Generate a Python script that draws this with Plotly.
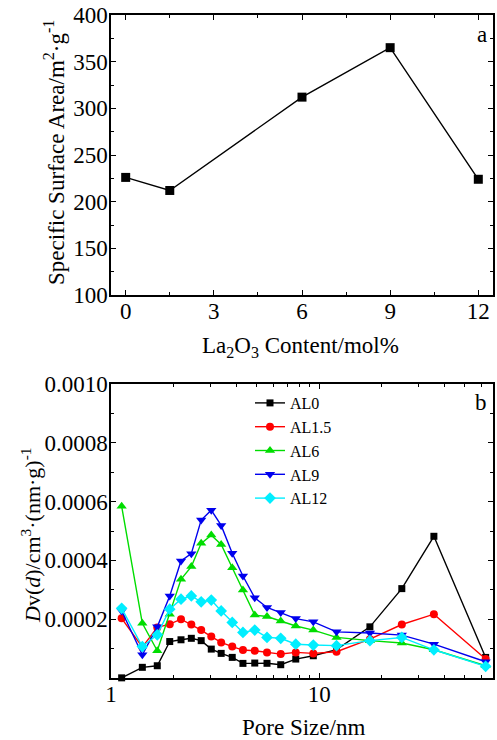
import plotly.graph_objects as go

# Panel a data
la_content = [0, 1.5, 6, 9, 12]
surface_area = [226, 212, 312, 365, 224]

# Panel b data
pore_size = [1.125, 1.414, 1.668, 1.914, 2.168, 2.43, 2.71, 3.03, 3.38, 3.82, 4.30,
             4.90, 5.61, 6.53, 7.71, 9.36, 12.1, 17.5, 24.9, 35.5, 62.9]
al0 = [0.0000005, 0.0000363, 0.0000417, 0.000124, 0.00013, 0.000135, 0.000127, 0.0000983,
       0.0000837, 0.0000701, 0.0000497, 0.0000508, 0.00005, 0.0000452, 0.0000644, 0.0000757,
       0.0000967, 0.000174, 0.000304, 0.000482, 0.00007]
al15 = [0.000203, 0.000105, 0.000172, 0.000183, 0.0002, 0.000182, 0.000163, 0.000141,
        0.000121, 0.000107, 0.000095, 0.0000926, 0.000087, 0.0000814, 0.000087, 0.0000837,
        0.0000893, 0.000132, 0.000182, 0.000217, 0.0000644]
al6 = [0.000584, 0.000186, 0.0000926, 0.000217, 0.000336, 0.000379, 0.000458, 0.000486,
       0.000454, 0.000375, 0.000299, 0.000214, 0.000209, 0.000194, 0.000177, 0.000163,
       0.000138, 0.000127, 0.000119, 0.000096, 0.0000417]
al9 = [0.000228, 0.000079, 0.000174, 0.000279, 0.000398, 0.000423, 0.000537, 0.000571,
       0.000519, 0.000424, 0.000347, 0.000273, 0.00024, 0.000223, 0.000202, 0.000191,
       0.000157, 0.000153, 0.000146, 0.000115, 0.0000553]
al12 = [0.000237, 0.000107, 0.000147, 0.000234, 0.000268, 0.000279, 0.000259, 0.000265,
        0.000228, 0.000189, 0.000155, 0.000163, 0.000138, 0.000135, 0.000115, 0.000112,
        0.00011, 0.000127, 0.000138, 0.000096, 0.0000397]

series_names = ["AL0", "AL1.5", "AL6", "AL9", "AL12"]
series_vals = [al0, al15, al6, al9, al12]
colors = ["#000000", "#ff0000", "#00dd00", "#0000ee", "#00eeff"]
symbols = ["square", "circle", "triangle-up", "triangle-down", "diamond"]
sizes = [7, 8, 9, 9, 9]

y_b_ticks = [0.0002, 0.0004, 0.0006, 0.0008, 0.0010]
y_b_ticktext = ["0.0002", "0.0004", "0.0006", "0.0008", "0.0010"]

FONT = "Liberation Serif"
W, H = 497, 740

fig = go.Figure()

fig.add_trace(go.Scatter(
    x=la_content, y=surface_area, mode="lines+markers",
    line=dict(color="black", width=1.4),
    marker=dict(symbol="square", size=9, color="black"),
    xaxis="x", yaxis="y", showlegend=False, cliponaxis=False))

for name, vals, c, s, sz in zip(series_names, series_vals, colors, symbols, sizes):
    fig.add_trace(go.Scatter(
        x=pore_size, y=vals, mode="lines+markers", name=name,
        line=dict(color=c, width=1.4),
        marker=dict(symbol=s, size=sz, color=c),
        xaxis="x2", yaxis="y2", cliponaxis=False))

def px_x(p):
    return p / W

def px_y(p):
    return 1 - p / H

axis_common = dict(
    showline=True, linecolor="black", linewidth=1.5, mirror="ticks",
    ticks="inside", ticklen=5, tickwidth=1, tickcolor="black",
    showgrid=False, zeroline=False, automargin=False,
    tickfont=dict(family=FONT, size=23, color="black"),
)

fig.update_layout(
    width=W, height=H,
    margin=dict(l=0, r=0, t=0, b=0, pad=0, autoexpand=False),
    paper_bgcolor="white", plot_bgcolor="white",
    font=dict(family=FONT, color="black"),
    xaxis=dict(domain=[px_x(111), px_x(493)], anchor="y", range=[-0.5, 12.5],
               tickmode="linear", tick0=0, dtick=3, ticklabelstandoff=-5,
               minor=dict(ticks="inside", ticklen=3, dtick=1.5, tick0=0, tickcolor="black"),
               **axis_common),
    yaxis=dict(domain=[px_y(295), px_y(15)], anchor="x", range=[100, 400],
               tickmode="linear", tick0=100, dtick=50, ticklabelstandoff=-3,
               minor=dict(ticks="inside", ticklen=3, dtick=25, tick0=100, tickcolor="black"),
               **axis_common),
    xaxis2=dict(domain=[px_x(111), px_x(493)], anchor="y2", type="log", range=[0, 1.834],
                tickmode="linear", tick0=0, dtick=1, ticklabelstandoff=-5,
                minor=dict(ticks="inside", ticklen=3, dtick="D1", tickcolor="black"),
                **axis_common),
    yaxis2=dict(domain=[px_y(678), px_y(384)], anchor="x2", range=[0, 0.001],
                tickmode="array", tickvals=y_b_ticks, ticktext=y_b_ticktext,
                ticklabelstandoff=-3,
                minor=dict(ticks="inside", ticklen=3, tickmode="linear", tick0=0,
                           dtick=0.0001, tickcolor="black"),
                **axis_common),
    legend=dict(x=px_x(250), y=px_y(386), xanchor="left", yanchor="top",
                bgcolor="rgba(0,0,0,0)", borderwidth=0,
                font=dict(family=FONT, size=16, color="black"),
                tracegroupgap=0, itemwidth=30),
    annotations=[
        dict(text="Specific Surface Area/m<sup>2</sup>·g<sup>-1</sup>", x=px_x(54), y=px_y(153),
             xref="paper", yref="paper", textangle=-90, showarrow=False,
             xanchor="center", yanchor="middle", font=dict(family=FONT, size=23)),
        dict(text="La<sub>2</sub>O<sub>3</sub> Content/mol%", x=px_x(300), y=px_y(347),
             xref="paper", yref="paper", showarrow=False,
             xanchor="center", yanchor="middle", font=dict(family=FONT, size=23)),
        dict(text="<i>D</i>v(<i>d</i>)/cm<sup>3</sup>·(nm·g)<sup>-1</sup>", x=px_x(31), y=px_y(535),
             xref="paper", yref="paper", textangle=-90, showarrow=False,
             xanchor="center", yanchor="middle", font=dict(family=FONT, size=22)),
        dict(text="Pore Size/nm", x=px_x(303), y=0, yshift=-2,
             xref="paper", yref="paper", showarrow=False,
             xanchor="center", yanchor="bottom", font=dict(family=FONT, size=23)),
        dict(text="a", x=px_x(482), y=px_y(35), xref="paper", yref="paper", showarrow=False,
             xanchor="center", yanchor="middle", font=dict(family=FONT, size=23)),
        dict(text="b", x=px_x(481), y=px_y(402), xref="paper", yref="paper", showarrow=False,
             xanchor="center", yanchor="middle", font=dict(family=FONT, size=23)),
    ],
)

fig.write_html("out.html", config={"displayModeBar": False})

# remove default page margin so the figure sits at the window origin
with open("out.html", "r", encoding="utf-8") as f:
    html = f.read()
html = html.replace("<head>", "<head><style>html,body{margin:0;padding:0;overflow:hidden;}</style>", 1)
with open("out.html", "w", encoding="utf-8") as f:
    f.write(html)
